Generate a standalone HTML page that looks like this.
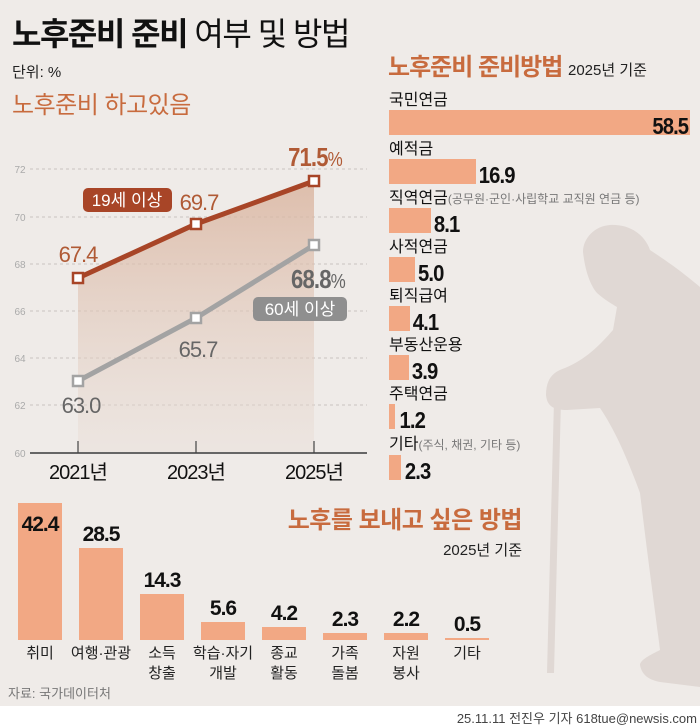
<!DOCTYPE html>
<html><head><meta charset="utf-8">
<style>
html,body{margin:0;padding:0;background:#efebe8;}
svg{display:block;font-family:"Liberation Sans","Noto Sans CJK KR",sans-serif;}
</style></head><body>
<svg width="700" height="727" viewBox="0 0 700 727" xmlns="http://www.w3.org/2000/svg">
<defs>
<linearGradient id="fg" x1="0" y1="0" x2="0" y2="1">
<stop offset="0" stop-color="#d9b29c" stop-opacity="0.8"/>
<stop offset="1" stop-color="#e8ddd6" stop-opacity="0.4"/>
</linearGradient>
</defs>
<rect x="0" y="0" width="700" height="706" fill="#efebe8"/>
<rect x="0" y="706" width="700" height="21" fill="#ffffff"/>

<!-- silhouette -->
<path d="M610,225 C595,226 583,238 583,252 C585,270 590,285 597,293 C605,300 612,304 617,307 L613,330 C600,345 585,360 565,368 C552,372 546,380 546,395 C547,405 552,410 567,410 L600,408 C615,430 628,460 640,493 C648,560 655,610 660,650 C650,655 640,660 640,665 C642,676 650,680 660,682 L700,687 L700,287 C680,270 665,260 650,250 C645,235 630,224 610,225 Z" fill="#e0d8d4"/>
<path d="M554,400 L561,400 L554,673 L547,673 Z" fill="#e0d8d4"/>

<!-- title -->
<text x="12" y="45" font-size="32" font-weight="bold" fill="#111" letter-spacing="-1.5">노후준비 준비 <tspan font-weight="normal">여부 및 방법</tspan></text>
<text x="12" y="77" font-size="15" fill="#222">단위: %</text>
<text x="12" y="113" font-size="24" fill="#c86b3e" letter-spacing="-0.5">노후준비 하고있음</text>

<!-- line chart -->
<g stroke="#c9c3bf" stroke-dasharray="3,3" stroke-width="1">
<line x1="30" y1="169" x2="367" y2="169"/>
<line x1="30" y1="217" x2="367" y2="217"/>
<line x1="30" y1="264" x2="367" y2="264"/>
<line x1="30" y1="311" x2="367" y2="311"/>
<line x1="30" y1="358" x2="367" y2="358"/>
<line x1="30" y1="405" x2="367" y2="405"/>
</g>
<g font-size="10" fill="#aaa" text-anchor="middle">
<text x="20" y="173">72</text><text x="20" y="221">70</text><text x="20" y="268">68</text>
<text x="20" y="315">66</text><text x="20" y="362">64</text><text x="20" y="409">62</text><text x="20" y="457">60</text>
</g>
<polygon points="78,278 196,224 314,181 314,453 78,453" fill="url(#fg)"/>
<line x1="30" y1="453" x2="367" y2="453" stroke="#666" stroke-width="2"/>
<g stroke="#444" stroke-width="1.2"><line x1="78" y1="441" x2="78" y2="453"/><line x1="196" y1="441" x2="196" y2="453"/><line x1="314" y1="441" x2="314" y2="453"/></g>
<polyline points="78,381 196,318 314,245" fill="none" stroke="#a3a3a3" stroke-width="5"/>
<polyline points="78,278 196,224 314,181" fill="none" stroke="#a84527" stroke-width="5"/>
<g fill="#fff" stroke-width="2.5">
<rect x="73" y="273" width="10" height="10" stroke="#a84527"/>
<rect x="191" y="219" width="10" height="10" stroke="#a84527"/>
<rect x="309" y="176" width="10" height="10" stroke="#a84527"/>
<rect x="73" y="376" width="10" height="10" stroke="#a3a3a3"/>
<rect x="191" y="313" width="10" height="10" stroke="#a3a3a3"/>
<rect x="309" y="240" width="10" height="10" stroke="#a3a3a3"/>
</g>
<rect x="83" y="188" width="89" height="24" rx="5" fill="#a84527"/>
<text x="127" y="206" font-size="17" fill="#fff" text-anchor="middle">19세 이상</text>
<rect x="253" y="297" width="94" height="24" rx="5" fill="#8f8f8f"/>
<text x="300" y="315" font-size="17" fill="#fff" text-anchor="middle">60세 이상</text>
<g font-size="22" fill="#b05a35" text-anchor="middle" letter-spacing="-1">
<text x="78" y="262">67.4</text><text x="199" y="210">69.7</text>
<text x="315" y="166" font-weight="bold" font-size="26" transform="translate(315,0) scale(0.85,1) translate(-315,0)">71.5<tspan font-weight="normal" font-size="20">%</tspan></text>
</g>
<g font-size="22" fill="#666" text-anchor="middle" letter-spacing="-1">
<text x="81" y="413">63.0</text><text x="198" y="357">65.7</text>
<text x="318" y="288" font-weight="bold" font-size="26" transform="translate(318,0) scale(0.85,1) translate(-318,0)">68.8<tspan font-weight="normal" font-size="20">%</tspan></text>
</g>
<g font-size="20" fill="#111" text-anchor="middle" letter-spacing="-1">
<text x="78" y="479">2021년</text><text x="196" y="479">2023년</text><text x="314" y="479">2025년</text>
</g>

<!-- right bar chart -->
<text x="388" y="75" font-size="24" font-weight="bold" fill="#c86b3e" letter-spacing="-1">노후준비 준비방법 <tspan font-size="15" font-weight="normal" fill="#222" letter-spacing="0">2025년 기준</tspan></text>
<g font-size="16" fill="#111">
<text x="389" y="105">국민연금</text>
<text x="389" y="154">예적금</text>
<text x="389" y="203">직역연금<tspan font-size="12" fill="#777">(공무원·군인·사립학교 교직원 연금 등)</tspan></text>
<text x="389" y="252">사적연금</text>
<text x="389" y="301">퇴직급여</text>
<text x="389" y="350">부동산운용</text>
<text x="389" y="399">주택연금</text>
<text x="389" y="449">기타<tspan font-size="12" fill="#777">(주식, 채권, 기타 등)</tspan></text>
</g>
<g fill="#f2a884">
<rect x="389" y="110" width="301" height="25"/>
<rect x="389" y="159" width="87" height="25"/>
<rect x="389" y="208" width="42" height="25"/>
<rect x="389" y="257" width="26" height="25"/>
<rect x="389" y="306" width="21" height="25"/>
<rect x="389" y="355" width="20" height="25"/>
<rect x="389" y="404" width="6" height="25"/>
<rect x="389" y="455" width="12" height="25"/>
</g>
<g font-size="23" font-weight="bold" fill="#111" letter-spacing="-1" transform="translate(389,0) scale(0.88,1) translate(-389,0)">
<text x="729" y="134" text-anchor="end">58.5</text>
<text x="491" y="183">16.9</text>
<text x="440" y="232">8.1</text>
<text x="422" y="281">5.0</text>
<text x="416" y="330">4.1</text>
<text x="415" y="379">3.9</text>
<text x="401" y="428">1.2</text>
<text x="407" y="479">2.3</text>
</g>

<!-- bottom bar chart -->
<text x="522" y="528" font-size="24" font-weight="bold" fill="#c86b3e" text-anchor="end" letter-spacing="-0.5">노후를 보내고 싶은 방법</text>
<text x="522" y="555" font-size="15" fill="#222" text-anchor="end">2025년 기준</text>
<g fill="#f2a884">
<rect x="18" y="503" width="44" height="137"/>
<rect x="79" y="548" width="44" height="92"/>
<rect x="140" y="594" width="44" height="46"/>
<rect x="201" y="622" width="44" height="18"/>
<rect x="262" y="627" width="44" height="13"/>
<rect x="323" y="633" width="44" height="7"/>
<rect x="384" y="633" width="44" height="7"/>
<rect x="445" y="638" width="44" height="2"/>
</g>
<g font-size="21" font-weight="bold" fill="#111" text-anchor="middle" letter-spacing="-1">
<text x="40" y="531">42.4</text>
<text x="101" y="541">28.5</text>
<text x="162" y="587">14.3</text>
<text x="223" y="615">5.6</text>
<text x="284" y="620">4.2</text>
<text x="345" y="626">2.3</text>
<text x="406" y="626">2.2</text>
<text x="467" y="631">0.5</text>
</g>
<g font-size="15" fill="#222" text-anchor="middle">
<text x="40" y="658">취미</text>
<text x="101" y="658">여행·관광</text>
<text x="162" y="658">소득</text><text x="162" y="678">창출</text>
<text x="223" y="658">학습·자기</text><text x="223" y="678">개발</text>
<text x="284" y="658">종교</text><text x="284" y="678">활동</text>
<text x="345" y="658">가족</text><text x="345" y="678">돌봄</text>
<text x="406" y="658">자원</text><text x="406" y="678">봉사</text>
<text x="467" y="658">기타</text>
</g>
<text x="8" y="698" font-size="13" fill="#777">자료: 국가데이터처</text>
<text x="697" y="723" font-size="13" fill="#444" text-anchor="end">25.11.11 전진우 기자 618tue@newsis.com</text>
</svg>
</body></html>
